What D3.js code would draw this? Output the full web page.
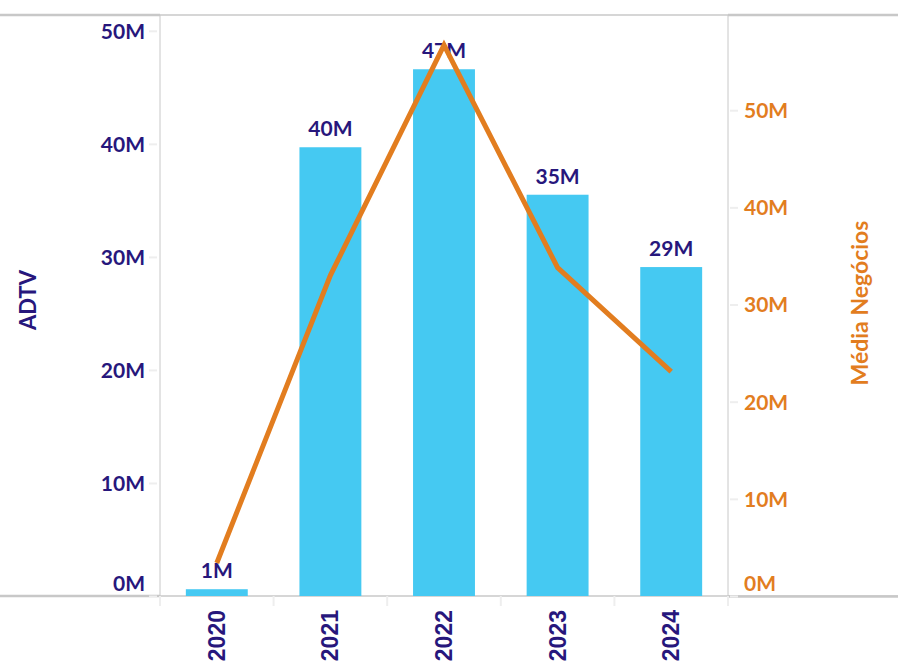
<!DOCTYPE html>
<html>
<head>
<meta charset="utf-8">
<script src="https://cdn.jsdelivr.net/npm/d3@7"></script>
<style>
  body { margin: 0; background: #fff; }
  svg { display: block; }
</style>
</head>
<body>
<svg id="chart" width="898" height="671"></svg>
<script>
const categories = ["2020", "2021", "2022", "2023", "2024"];
const adtv = [0.6, 39.7, 46.6, 35.5, 29.1];          // millions, bars
const adtvLabels = ["1M", "40M", "47M", "35M", "29M"];
const mediaNegocios = [3.4, 33.0, 56.7, 33.8, 23.1]; // millions, line
const leftTicks = [0, 10, 20, 30, 40, 50];
const rightTicks = [0, 10, 20, 30, 40, 50];

(function () {
const navy = "#27177c", orange = "#e27d1f", barColor = "#45c9f2", frame = "#c8c8c8";
const numFont = "Lato, 'Open Sans', sans-serif";
const fs = 21;

const svg = d3.select("#chart");
const W = 898;
const pL = 160, pR = 728, pT = 15, pB = 596;

const x = d3.scaleBand().domain(categories).range([pL, pR]).paddingInner(0.455).paddingOuter(0.2275);
const yL = d3.scaleLinear().domain([0, 51.4]).range([pB, pT]);
const yR = d3.scaleLinear().domain([0, 59.8]).range([pB, pT]);

// frame
svg.append("line").attr("x1", 0).attr("x2", W).attr("y1", pT).attr("y2", pT).attr("stroke", frame).attr("stroke-width", 1.5);
svg.append("line").attr("x1", 0).attr("x2", pL).attr("y1", pT).attr("y2", pT).attr("stroke", frame).attr("stroke-width", 2.5);
svg.append("line").attr("x1", pR).attr("x2", W).attr("y1", pT).attr("y2", pT).attr("stroke", frame).attr("stroke-width", 2.5);
svg.append("line").attr("x1", 0).attr("x2", W).attr("y1", pB).attr("y2", pB).attr("stroke", frame).attr("stroke-width", 1.5);
svg.append("line").attr("x1", 0).attr("x2", pL).attr("y1", pB).attr("y2", pB).attr("stroke", frame).attr("stroke-width", 2.5);
svg.append("line").attr("x1", pR).attr("x2", W).attr("y1", pB + 0.5).attr("y2", pB + 0.5).attr("stroke", frame).attr("stroke-width", 2.5);
svg.append("line").attr("x1", pL).attr("x2", pL).attr("y1", pT).attr("y2", pB).attr("stroke", frame).attr("stroke-width", 1);
svg.append("line").attr("x1", pR).attr("x2", pR).attr("y1", pT).attr("y2", pB).attr("stroke", frame).attr("stroke-width", 1);

// category boundary ticks
const boundaries = d3.range(categories.length + 1).map(i => pL + i * (pR - pL) / categories.length);
svg.append("g").selectAll("line").data(boundaries).join("line")
  .attr("x1", d => d).attr("x2", d => d).attr("y1", pB).attr("y2", pB + 10)
  .attr("stroke", "#eeeeee").attr("stroke-width", 2);

// left axis
const gL = svg.append("g").attr("transform", `translate(${pL},0)`)
  .call(d3.axisLeft(yL).tickValues(leftTicks).tickFormat(d => d + "M").tickSize(0).tickPadding(15));
gL.select(".domain").remove();
gL.selectAll(".tick text").attr("fill", navy).attr("font-family", numFont).attr("font-weight", 700).attr("font-size", fs)
  .attr("dy", d => d === 0 ? "-0.25em" : "0.35em");
gL.selectAll(".tick").append("line").attr("x1", -11).attr("x2", -3).attr("stroke", "#eeeeee").attr("stroke-width", 2);

// right axis
const gR = svg.append("g").attr("transform", `translate(${pR},0)`)
  .call(d3.axisRight(yR).tickValues(rightTicks).tickFormat(d => d + "M").tickSize(0).tickPadding(16));
gR.select(".domain").remove();
gR.selectAll(".tick text").attr("fill", orange).attr("font-family", numFont).attr("font-weight", 700).attr("font-size", fs)
  .attr("dy", d => d === 0 ? "-0.25em" : "0.35em");
gR.selectAll(".tick").append("line").attr("x1", 2).attr("x2", 10).attr("stroke", "#eeeeee").attr("stroke-width", 2);

// bars
svg.append("g").selectAll("rect").data(categories).join("rect")
  .attr("x", d => x(d)).attr("width", x.bandwidth())
  .attr("y", (d, i) => yL(adtv[i])).attr("height", (d, i) => yL(0) - yL(adtv[i]))
  .attr("fill", barColor);

// bar labels
svg.append("g").selectAll("text").data(categories).join("text")
  .attr("x", d => x(d) + x.bandwidth() / 2)
  .attr("y", (d, i) => yL(adtv[i]) - 11)
  .attr("text-anchor", "middle")
  .attr("fill", navy).attr("font-family", numFont).attr("font-weight", 700).attr("font-size", fs)
  .text((d, i) => adtvLabels[i]);

// line
const line = d3.line().x((d, i) => x(categories[i]) + x.bandwidth() / 2).y(d => yR(d));
svg.append("path").datum(mediaNegocios).attr("d", line)
  .attr("fill", "none").attr("stroke", orange).attr("stroke-width", 5).attr("stroke-linejoin", "miter");

// x labels
svg.append("g").selectAll("text").data(categories).join("text")
  .attr("transform", d => `translate(${x(d) + x.bandwidth() / 2 + 8},${pB + 14}) rotate(-90)`)
  .attr("text-anchor", "end")
  .attr("fill", navy).attr("font-family", "'Liberation Sans', Arial, sans-serif").attr("font-weight", 700).attr("font-size", 23)
  .text(d => d);

// axis titles
svg.append("text").attr("transform", `translate(36,300) rotate(-90)`)
  .attr("text-anchor", "middle").attr("fill", navy).attr("font-family", numFont).attr("font-weight", 700).attr("font-size", 22)
  .text("ADTV");
svg.append("text").attr("transform", `translate(868,303) rotate(-90)`)
  .attr("text-anchor", "middle").attr("fill", orange).attr("font-family", numFont).attr("font-weight", 700).attr("font-size", 23)
  .text("Média Negócios");
})();
</script>
</body>
</html>
